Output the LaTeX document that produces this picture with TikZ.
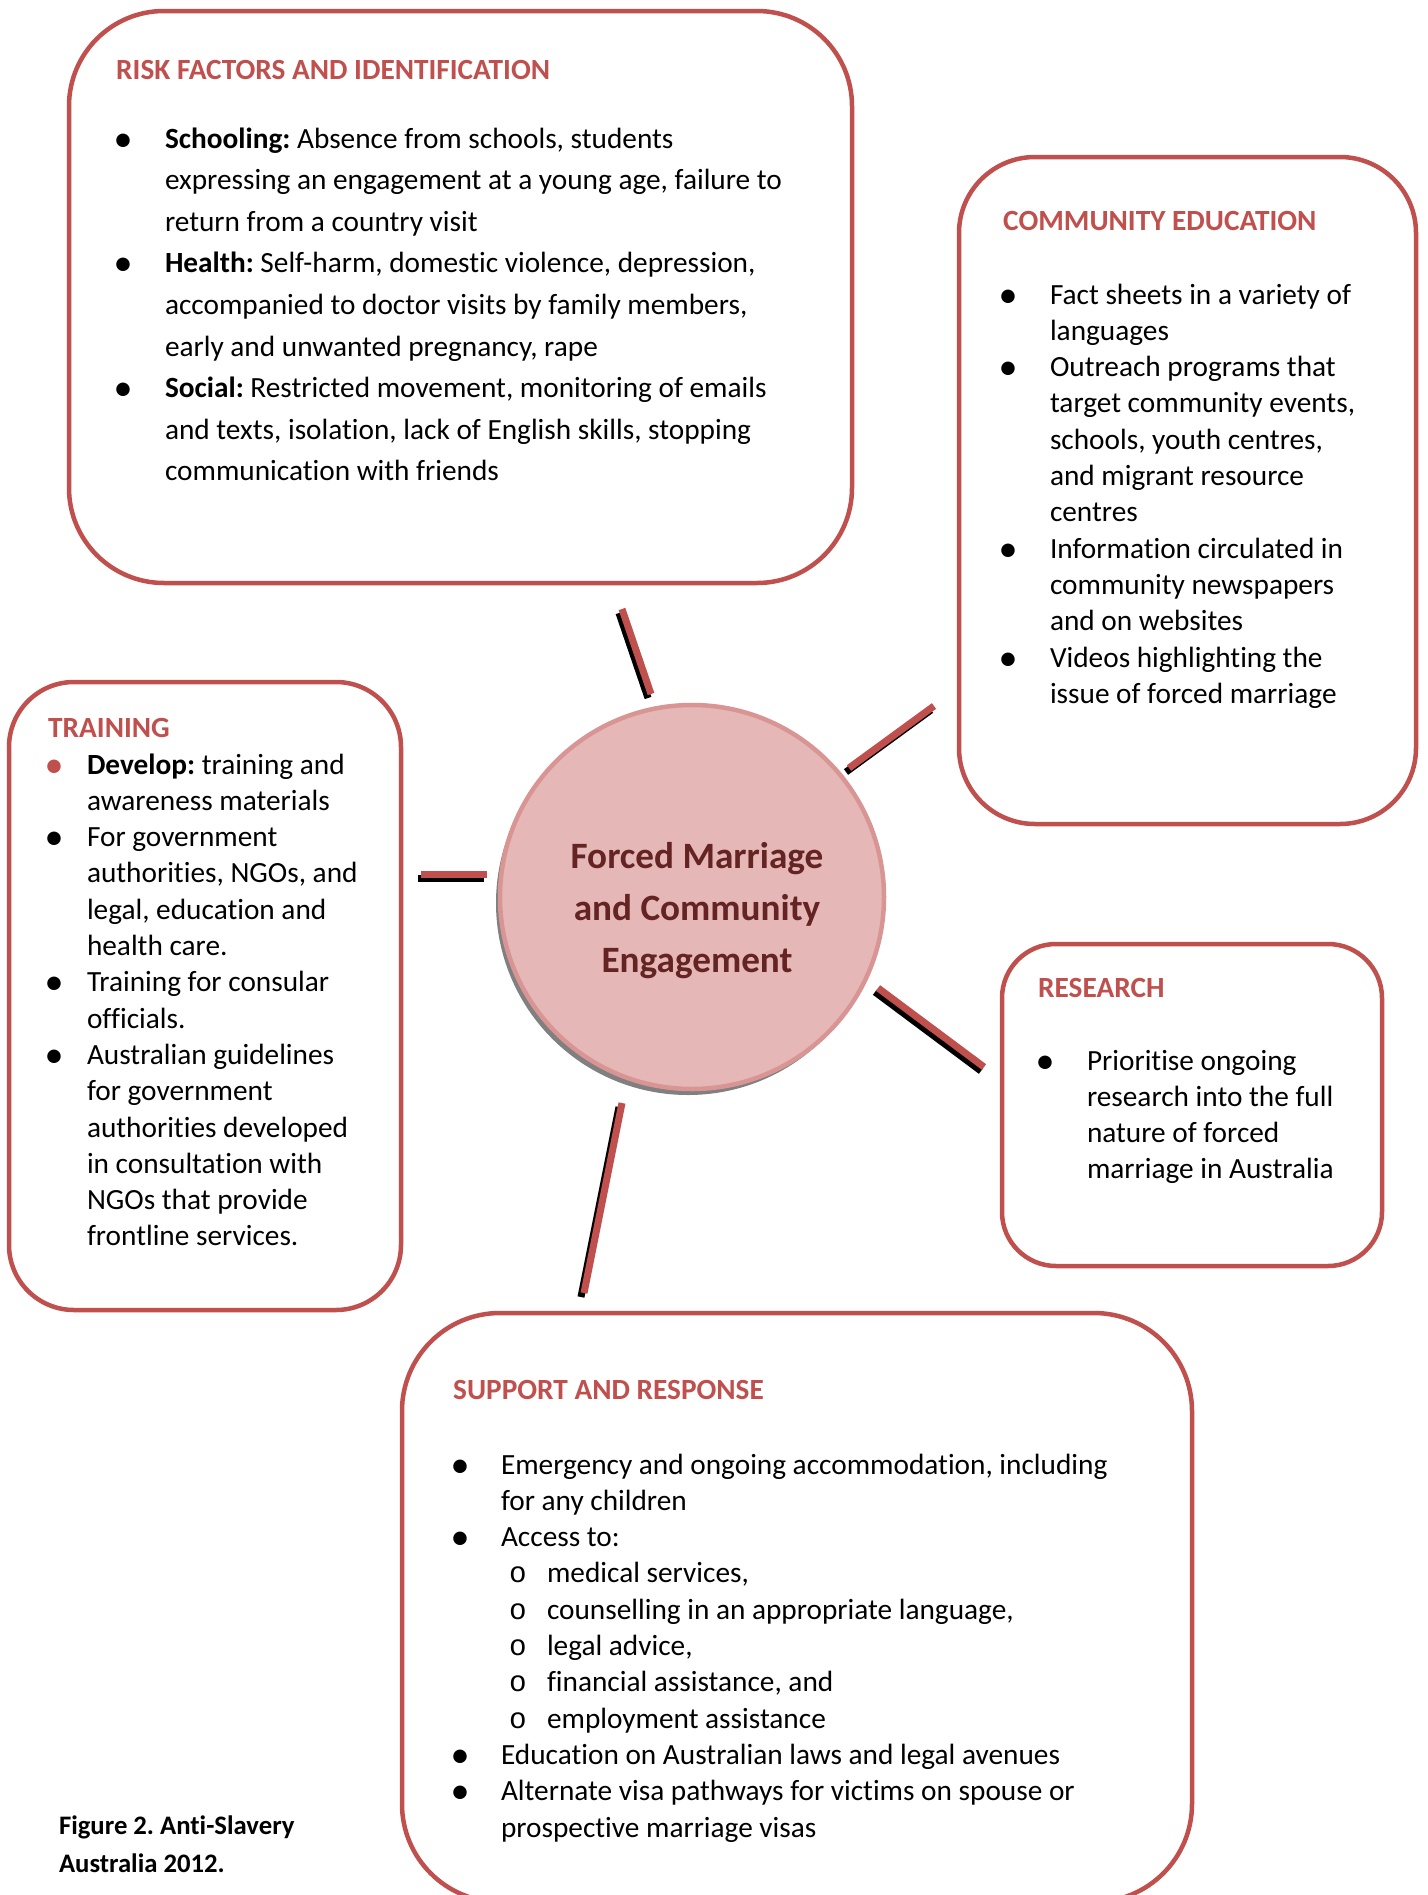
\documentclass[tikz,border=0pt]{standalone}
\usepackage{fontspec}
\usepackage{graphicx}
\setmainfont{Carlito}[Ligatures=NoCommon]
\newfontfamily\subbulfont{Liberation Mono}
\definecolor{boxred}{HTML}{C0504D}
\definecolor{hubfill}{HTML}{E5B8B7}
\definecolor{hubline}{HTML}{D99594}
\definecolor{hubtextc}{HTML}{632423}
\definecolor{shadowgray}{HTML}{808080}
\frenchspacing
\newcommand\bodyfont{\fontsize{29.3pt}{36.3pt}\selectfont}
\newcommand\mybul{\raisebox{-3pt}{\scalebox{1.3}{\textbullet}}}
\newlength\bulgap
\newcommand\BI[1]{\hbox{\llap{\makebox[0pt][c]{\mybul}\hskip\bulgap}#1}}
\newcommand\BIred[1]{\hbox{\llap{\makebox[0pt][c]{\color{boxred}\mybul}\hskip\bulgap}#1}}
\newcommand\LI[1]{\hbox{#1}}
\newcommand\SI[1]{\hbox{\hskip 46pt\llap{\makebox[0pt][c]{\subbulfont o}\hskip 29pt}#1}}
\tikzset{
  panel/.style={draw=boxred, line width=4.5pt, fill=none, rectangle, inner sep=0pt},
  paneltitle/.style={anchor=base west, inner sep=0pt, text=boxred,
    font=\fontsize{29.3pt}{36pt}\selectfont\bfseries},
  bodytext/.style={anchor=base west, inner sep=0pt, outer sep=0pt},
  conn/.style={draw=boxred, line width=7pt, line cap=butt},
  connshadow/.style={draw=black, line width=7pt, line cap=butt},
}
\begin{document}
\begin{tikzpicture}[x=1pt,y=-1pt]
\useasboundingbox (0,0) rectangle (1427,1895);
\fill[white] (0,0) rectangle (1427,1895);

% panels
\node[panel, rounded corners=95pt, minimum width=783pt, minimum height=572pt] (risk) at (460.5,297) {};
\node[panel, rounded corners=76pt, minimum width=457pt, minimum height=667pt] (community) at (1187.5,490.5) {};
\node[panel, rounded corners=65pt, minimum width=392pt, minimum height=628pt] (training) at (205,996) {};
\node[panel, rounded corners=54pt, minimum width=380pt, minimum height=322pt] (research) at (1192,1105) {};
\node[panel, rounded corners=98pt, minimum width=790pt, minimum height=589pt] (support) at (797,1607.5) {};

% connector end points
\coordinate (c1a) at (622,609);  \coordinate (c1b) at (651,694);
\coordinate (c2a) at (934,706);  \coordinate (c2b) at (849,768);
\coordinate (c3a) at (421,874);  \coordinate (c3b) at (487,874);
\coordinate (c4a) at (878,988);  \coordinate (c4b) at (984,1067);
\coordinate (c5a) at (622,1103); \coordinate (c5b) at (584,1293);
\foreach \p in {c1,c2,c3,c4,c5}{
  \draw[connshadow] ([shift={(-3,4)}]\p a) -- ([shift={(-3,4)}]\p b);
  \draw[conn] (\p a) -- (\p b);
}

% hub
\node[circle, fill=shadowgray, minimum size=384pt, inner sep=0pt] (hubshadow) at (688,903) {};
\node[circle, fill=hubfill, draw=hubline, line width=4.5pt, minimum size=384pt, inner sep=0pt] (hub) at (692,897) {};
\node[anchor=base, inner sep=0pt, text=hubtextc] (hubtext) at (697,868) {\vtop{\hsize=420pt
  \fontsize{37.2pt}{52pt}\selectfont\bfseries\baselineskip=52pt
  \hbox to\hsize{\hss Forced Marriage\hss}
  \hbox to\hsize{\hss and Community\hss}
  \hbox to\hsize{\hss Engagement\hss}}};

% titles
\node[paneltitle] (risktitle) at (116,79) {RISK FACTORS AND IDENTIFICATION};
\node[paneltitle] (commtitle) at (1003,230) {COMMUNITY EDUCATION};
\node[paneltitle] (traintitle) at (48,737) {TRAINING};
\node[paneltitle] (restitle) at (1038,997) {RESEARCH};
\node[paneltitle] (supptitle) at (453,1399) {SUPPORT AND RESPONSE};

% risk body
\node[bodytext] (riskbody) at (165,148) {\vtop{\bodyfont\baselineskip=41.6pt\setlength\bulgap{42pt}
  \BI{\textbf{Schooling:} Absence from schools, students}
  \LI{expressing an engagement at a young age, failure to}
  \LI{return from a country visit}
  \BI{\textbf{Health:} Self-harm, domestic violence, depression,}
  \LI{accompanied to doctor visits by family members,}
  \LI{early and unwanted pregnancy, rape}
  \BI{\textbf{Social:} Restricted movement, monitoring of emails}
  \LI{and texts, isolation, lack of English skills, stopping}
  \LI{communication with friends}}};

% community body
\node[bodytext] (commbody) at (1050,304) {\vtop{\bodyfont\baselineskip=36.3pt\setlength\bulgap{42pt}
  \BI{Fact sheets in a variety of}
  \LI{languages}
  \BI{Outreach programs that}
  \LI{target community events,}
  \LI{schools, youth centres,}
  \LI{and migrant resource}
  \LI{centres}
  \BI{Information circulated in}
  \LI{community newspapers}
  \LI{and on websites}
  \BI{Videos highlighting the}
  \LI{issue of forced marriage}}};

% training body
\node[bodytext] (trainbody) at (87,774) {\vtop{\bodyfont\baselineskip=36.3pt\setlength\bulgap{33pt}
  \BIred{\textbf{Develop:} training and}
  \LI{awareness materials}
  \BI{For government}
  \LI{authorities, NGOs, and}
  \LI{legal, education and}
  \LI{health care.}
  \BI{Training for consular}
  \LI{officials.}
  \BI{Australian guidelines}
  \LI{for government}
  \LI{authorities developed}
  \LI{in consultation with}
  \LI{NGOs that provide}
  \LI{frontline services.}}};

% research body
\node[bodytext] (resbody) at (1087,1070) {\vtop{\bodyfont\baselineskip=36.3pt\setlength\bulgap{42pt}
  \BI{Prioritise ongoing}
  \LI{research into the full}
  \LI{nature of forced}
  \LI{marriage in Australia}}};

% support body
\node[bodytext] (suppbody) at (501,1474) {\vtop{\bodyfont\baselineskip=36.3pt\setlength\bulgap{41pt}
  \BI{Emergency and ongoing accommodation, including}
  \LI{for any children}
  \BI{Access to:}
  \SI{medical services,}
  \SI{counselling in an appropriate language,}
  \SI{legal advice,}
  \SI{financial assistance, and}
  \SI{employment assistance}
  \BI{Education on Australian laws and legal avenues}
  \BI{Alternate visa pathways for victims on spouse or}
  \LI{prospective marriage visas}}};

% caption
\node[bodytext] (caption) at (59,1834) {\vtop{\fontsize{26.7pt}{38.5pt}\selectfont\bfseries\baselineskip=38.5pt
  \hbox{Figure 2. Anti-Slavery}
  \hbox{Australia 2012.}}};
\end{tikzpicture}
\end{document}
